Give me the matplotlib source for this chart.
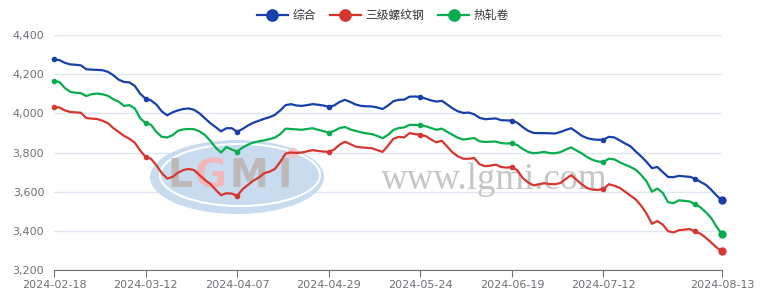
import matplotlib
matplotlib.use('Agg')
import matplotlib.pyplot as plt
from matplotlib.patches import Ellipse
import pandas as pd

plt.rcParams['font.family'] = ['Noto Sans CJK SC', 'DejaVu Sans']

# Chinese working days 2024-02-18 .. 2024-08-13
holidays = ['2024-04-04', '2024-04-05', '2024-05-01', '2024-05-02', '2024-05-03', '2024-06-10']
makeup_days = ['2024-02-18', '2024-04-07', '2024-04-28', '2024-05-11']
days = pd.bdate_range('2024-02-18', '2024-08-13')
days = days[~days.isin(pd.to_datetime(holidays))].union(pd.to_datetime(makeup_days))
dates = [d.strftime('%Y-%m-%d') for d in days]

tick_labels = ['2024-02-18', '2024-03-12', '2024-04-07', '2024-04-29',
               '2024-05-24', '2024-06-19', '2024-07-12', '2024-08-13']
series_names = ['综合', '三级螺纹钢', '热轧卷']
colors = ['#1740aa', '#d5372f', '#08ad4e']

zonghe = [4275, 4272, 4258, 4250, 4248, 4245, 4225, 4223, 4222, 4220,
          4212, 4195, 4172, 4160, 4158, 4140, 4100, 4075, 4066, 4045,
          4010, 3990, 4005, 4015, 4022, 4025, 4018, 4000, 3975, 3950,
          3930, 3908, 3924, 3924, 3906, 3920, 3938, 3952, 3962, 3972,
          3980, 3992, 4015, 4042, 4047, 4040, 4038, 4042, 4047, 4044,
          4040, 4033, 4040, 4058, 4069, 4058, 4045, 4038, 4036, 4035,
          4030, 4022, 4040, 4062, 4069, 4070, 4085, 4086, 4084, 4075,
          4066, 4060, 4064, 4045, 4025, 4010, 4002, 4004, 3995, 3977,
          3970, 3972, 3974, 3965, 3964, 3963, 3952, 3930, 3911, 3900,
          3899, 3899, 3898, 3897, 3905, 3915, 3924, 3905, 3885, 3873,
          3867, 3865, 3866, 3880, 3877, 3862, 3846, 3832, 3805, 3780,
          3752, 3720, 3726, 3700, 3675, 3674, 3681, 3678, 3676, 3667,
          3650, 3635, 3610, 3580, 3555]

rebar = [4033, 4030, 4015, 4007, 4005, 4003, 3976, 3973, 3971, 3962,
         3950, 3925, 3905, 3885, 3870, 3850, 3810, 3778, 3768, 3735,
         3695, 3667, 3675, 3697, 3710, 3716, 3710, 3685, 3660, 3640,
         3610, 3582, 3592, 3590, 3579, 3612, 3635, 3656, 3672, 3694,
         3702, 3716, 3752, 3795, 3800, 3798, 3800, 3806, 3812, 3808,
         3805, 3803, 3815, 3840, 3855, 3843, 3830, 3826, 3824, 3822,
         3812, 3803, 3835, 3870, 3880, 3877, 3899, 3894, 3890, 3884,
         3866, 3852, 3860, 3830, 3800, 3780, 3768, 3768, 3772, 3740,
         3730, 3733, 3738, 3726, 3723, 3725, 3710, 3670, 3647, 3632,
         3638, 3643, 3639, 3638, 3644, 3665, 3684, 3660, 3637, 3618,
         3610, 3609, 3613, 3638, 3630, 3620, 3600, 3580, 3560, 3528,
         3488, 3436, 3450, 3432, 3398, 3392, 3403, 3406, 3409, 3397,
         3385, 3365, 3340, 3315, 3295]

hrc = [4166, 4160, 4130, 4110, 4105, 4103, 4088, 4098, 4101, 4097,
       4090, 4072, 4060, 4038, 4042, 4025, 3975, 3950, 3942, 3905,
       3880, 3877, 3888, 3911, 3918, 3920, 3919, 3908, 3890, 3860,
       3825, 3800, 3828, 3815, 3805, 3825, 3840, 3851, 3857, 3862,
       3868, 3876, 3894, 3922, 3920, 3918, 3916, 3920, 3924, 3916,
       3909, 3902, 3910, 3925, 3930, 3918, 3910, 3903, 3898, 3894,
       3885, 3873, 3890, 3915, 3925, 3928, 3941, 3941, 3940, 3934,
       3925, 3916, 3922, 3905, 3890, 3875, 3866, 3870, 3874, 3857,
       3854, 3855, 3856, 3848, 3846, 3847, 3838, 3818, 3803, 3796,
       3799, 3803, 3797, 3796, 3802, 3815, 3826, 3810, 3795, 3776,
       3762, 3754, 3752, 3768, 3765, 3750, 3738, 3726, 3712, 3685,
       3652, 3600, 3616, 3594, 3546, 3541, 3556, 3553, 3550, 3536,
       3520, 3495, 3465, 3420, 3383]

W, H = 766, 296
fig = plt.figure(figsize=(W / 100, H / 100), dpi=100)
ax = fig.add_axes([54 / W, 1 - 270 / H, 668 / W, 235 / H])

x = list(range(len(dates)))
marks = list(range(0, len(dates) - 1, 17)) + [len(dates) - 1]

# watermark
def fx(px):
    return px / W

def fy(py):
    return 1 - py / H

ax.add_patch(Ellipse((fx(237), fy(177)), 174 / W, 74 / H, transform=fig.transFigure,
                     facecolor='#c8dbef', edgecolor='none', zorder=1))
ax.add_patch(Ellipse((fx(240), fy(175)), 160 / W, 62 / H, transform=fig.transFigure,
                     facecolor='none', edgecolor='white', lw=1.5, zorder=1))
for ch, px, c in [('L', 180, '#bdb9b9'), ('G', 210, '#f3b6ba'), ('M', 249, '#bdb9b9'), ('I', 285, '#bdb9b9')]:
    ax.text(fx(px), fy(176), ch, transform=fig.transFigure, fontsize=28, fontweight='bold',
            family='DejaVu Sans', color=c, ha='center', va='center', zorder=1)
ax.add_patch(Ellipse((fx(293), fy(153)), 12 / W, 10 / H, transform=fig.transFigure,
                     facecolor='#f6c4c8', edgecolor='none', zorder=1))
ax.text(fx(494), fy(180), 'www.lgmi.com', transform=fig.transFigure, fontsize=26.5,
        family='Liberation Serif', color='#c6c6c6', ha='center', va='center', zorder=1)

for vals, name, c in zip([zonghe, rebar, hrc], series_names, colors):
    ax.plot(x, vals, color=c, lw=1.6, marker='o', markersize=3, markevery=marks,
            label=name, zorder=3, clip_on=False)
    ax.plot(x[-1], vals[-1], 'o', color=c, markersize=5, zorder=4, clip_on=False)

ax.set_xlim(0, len(dates) - 1)
ax.set_ylim(3200, 4400)
ax.set_yticks(range(3200, 4401, 200))
ax.set_yticklabels([f'{v:,}' for v in range(3200, 4401, 200)])
ax.set_xticks([dates.index(t) for t in tick_labels])
ax.set_xticklabels(tick_labels)
ax.grid(axis='y', color='#e0e6f1', lw=1)
ax.set_axisbelow(True)
for s in ['left', 'right', 'top']:
    ax.spines[s].set_visible(False)
ax.spines['bottom'].set_color('#6e7079')
ax.tick_params(axis='y', length=0, labelsize=8, colors='#6e7079', pad=7)
ax.tick_params(axis='x', length=5, labelsize=8, colors='#6e7079', pad=2)
for lab in ax.get_xticklabels() + ax.get_yticklabels():
    lab.set_family('DejaVu Sans')

leg = fig.legend(loc='center', bbox_to_anchor=(fx(383), fy(16)), ncol=3, frameon=False,
                 fontsize=8.5, handlelength=2.6, columnspacing=1.2, handletextpad=0.4,
                 markerscale=2.7)
for t in leg.get_texts():
    t.set_color('#333333')

fig.savefig('out.png', dpi=100)
